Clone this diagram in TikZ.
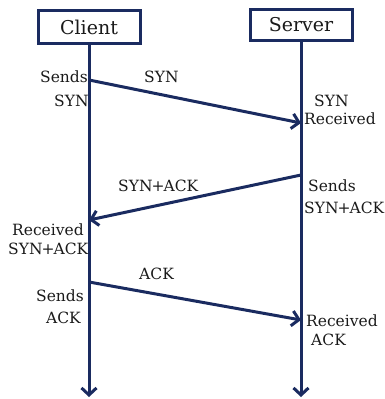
\documentclass[tikz,border=0pt]{standalone}
\usepackage{fontspec}
\setmainfont{DejaVu Serif}
\usetikzlibrary{arrows.meta}
\definecolor{navy}{HTML}{1A2B60}
\definecolor{txt}{HTML}{1A1A1A}
\newcommand{\synack}{SYN\kern-1pt+\kern-1pt ACK}
\begin{document}
\begin{tikzpicture}[x=1pt,y=-1pt,
  actor/.style={draw=navy,line width=3pt,minimum width=102pt,inner sep=0pt,font=\fontsize{19}{22}\selectfont,text=txt},
  life/.style={draw=navy,line width=3pt,-{Straight Barb[length=7pt,width=15pt]}},
  msg/.style={draw=navy,line width=3pt,-{Straight Barb[length=7pt,width=15pt]}},
  lbl/.style={inner sep=0pt,anchor=base west,font=\fontsize{15.5}{18}\selectfont,text=txt}]
\useasboundingbox (0,0) rectangle (384,399);
\node[actor,minimum height=33pt] (client) at (89,27) {Client};
\node[actor,minimum height=31pt] (server) at (301,24.5) {Server};
\coordinate (cend) at (89,397);
\coordinate (send) at (301,397);
\draw[life] (client.south) -- (cend);
\draw[life] (server.south) -- (send);
\coordinate (c1) at (89,80);
\coordinate (s1) at (301,123);
\coordinate (s2) at (301,175);
\coordinate (c2) at (89,220);
\coordinate (c3) at (89,282);
\coordinate (s3) at (301,320);
\draw[msg] (c1) -- (s1);
\draw[msg] (s2) -- (c2);
\draw[msg] (c3) -- (s3);
\node[lbl] (t1) at (40,82) {Sends};
\node[lbl] (t2) at (54,106) {SYN};
\node[lbl] (t3) at (144,82) {SYN};
\node[lbl] (t4) at (314,106) {SYN};
\node[lbl] (t5) at (304,124) {Received};
\node[lbl] (t6) at (118,191) {\synack};
\node[lbl] (t7) at (308,191) {Sends};
\node[lbl] (t8) at (304,213) {\synack};
\node[lbl] (t9) at (12,235) {Received};
\node[lbl] (t10) at (8,254) {\synack};
\node[lbl] (t11) at (139,279) {ACK};
\node[lbl] (t12) at (36,301) {Sends};
\node[lbl] (t13) at (46,323) {ACK};
\node[lbl] (t14) at (306,326) {Received};
\node[lbl] (t15) at (311,345) {ACK};
\end{tikzpicture}
\end{document}
